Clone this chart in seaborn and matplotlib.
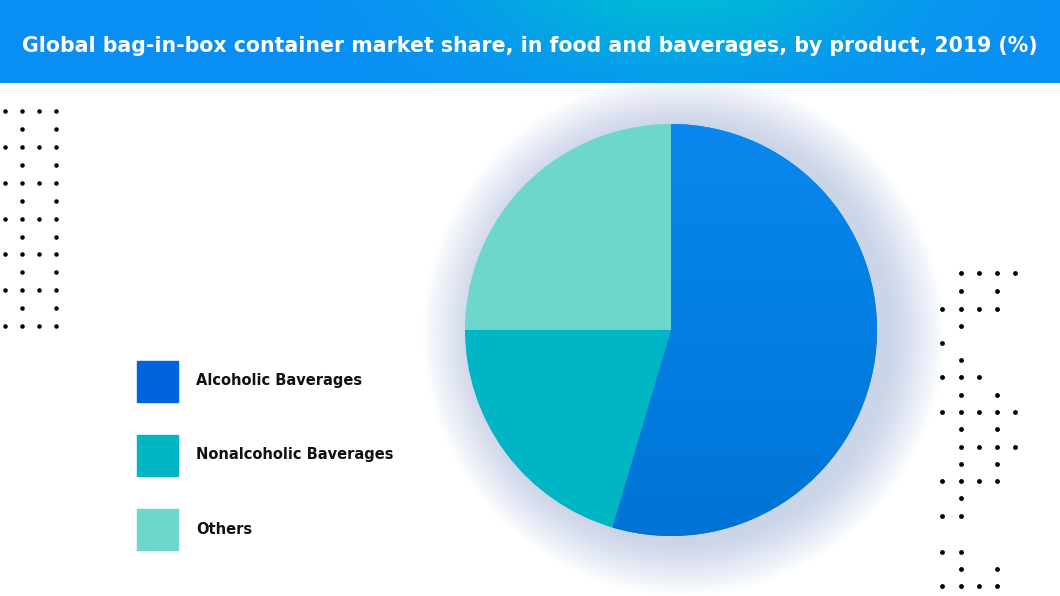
import matplotlib.pyplot as plt
import matplotlib.patches as mpatches
import numpy as np
import seaborn as sns

# data
products = ['Alcoholic Baverages', 'Nonalcoholic Baverages', 'Others']
shares = [54.6, 20.4, 25.0]
pie_colors = ['#0580e2', '#00b5c4', '#6dd7cb']
legend_colors = ['#0064e0', '#00b5c4', '#6dd7cb']
title = 'Global bag-in-box container market share, in food and baverages, by product, 2019 (%)'

# decorative dot grids (pixel positions)
left_cols = [5, 22, 39, 56]
left_rows = [111, 129, 147, 165, 183, 201, 219, 237, 254, 272, 290, 308, 326]
right_dots = {
    273: [961, 979, 997, 1015], 291: [961, 997], 309: [942, 961, 979, 997],
    326: [961], 343: [942], 360: [961], 377: [942, 961, 979], 395: [961, 997],
    412: [942, 961, 979, 997, 1015], 429: [961, 997], 447: [961, 979, 997, 1015],
    464: [961, 997], 481: [942, 961, 979, 997], 498: [961], 516: [942, 961],
    552: [942, 961], 569: [961, 997], 586: [942, 961, 979, 997],
}

sns.set_theme(style='white')
plt.rcParams['font.family'] = ['DejaVu Sans']

W, H = 1060, 596
fig = plt.figure(figsize=(W / 100, H / 100), dpi=100)
fig.patch.set_facecolor('white')

# background axes in pixel coords
bg = fig.add_axes([0, 0, 1, 1])
bg.set_xlim(0, W)
bg.set_ylim(H, 0)
bg.axis('off')

# dots
lx, ly = [], []
for i, r in enumerate(left_rows):
    cols = left_cols if i % 2 == 0 else [left_cols[1], left_cols[3]]
    for c in cols:
        lx.append(c)
        ly.append(r)
bg.scatter(lx, ly, s=5, color='black', zorder=2)
rx, ry = [], []
for r, cols in right_dots.items():
    for c in cols:
        rx.append(c)
        ry.append(r)
bg.scatter(rx, ry, s=6, color='black', zorder=2)

# legend
for i, (name, col) in enumerate(zip(products, legend_colors)):
    top = 361 + i * 74
    bg.add_patch(mpatches.Rectangle((137, top), 41, 41, color=col, zorder=2))
    bg.text(196, top + 20, name, fontsize=10.5, fontweight='bold', color='#111111',
            ha='left', va='center', zorder=2)

# pie with soft shadow (offset to the right)
R = 206
lim = 1.4
cx, cy = 671, H - 330
size = 2 * lim * R
pax = fig.add_axes([(cx - size / 2) / W, (cy - size / 2) / H, size / W, size / H])
n_layers = 24
for k in range(n_layers):
    rr = 1.0 + 0.011 * (n_layers - k)
    pax.add_patch(mpatches.Circle((0.06, -0.02), rr, color='#8aa8cc', alpha=0.02, lw=0, zorder=0))
wedges, _ = pax.pie(shares, colors=pie_colors, startangle=90, counterclock=False, radius=1.0,
                    wedgeprops=dict(linewidth=0))
# subtle vertical gradient on the main slice
grad = np.linspace(0, 1, 200)[:, None]
top_c = np.array([8, 136, 238]) / 255
bot_c = np.array([0, 116, 214]) / 255
gimg = top_c[None, None, :] * (1 - grad[..., None]) + bot_c[None, None, :] * grad[..., None]
gimg = np.repeat(gimg, 2, axis=1)
im = pax.imshow(gimg, extent=[-1, 1, -1, 1], origin='upper', aspect='auto', zorder=wedges[0].get_zorder() + 0.1)
im.set_clip_path(wedges[0])
pax.set_xlim(-lim, lim)
pax.set_ylim(-lim, lim)
pax.set_aspect('equal')
pax.axis('off')

# title bar gradient on top
tax = fig.add_axes([0, (H - 83) / H, 1, 83 / H])
tax.axis('off')
gx = np.linspace(0, 1, 400)
gy = np.linspace(0, 1, 60)
X, Y = np.meshgrid(gx, gy)
wgt = np.exp(-((X - 0.64) / 0.2) ** 2) * (1 - 0.7 * Y)
blue = np.array([10, 142, 245]) / 255
cyan = np.array([0, 186, 214]) / 255
img = blue[None, None, :] * (1 - wgt[..., None]) + cyan[None, None, :] * wgt[..., None]
tax.imshow(img, extent=[0, W, 83, 0], aspect='auto')
tax.set_xlim(0, W)
tax.set_ylim(83, 0)
tax.text(W / 2, 46, title, color='white', fontsize=14.8, fontweight='bold',
         ha='center', va='center')

fig.savefig('out.png', dpi=100)
